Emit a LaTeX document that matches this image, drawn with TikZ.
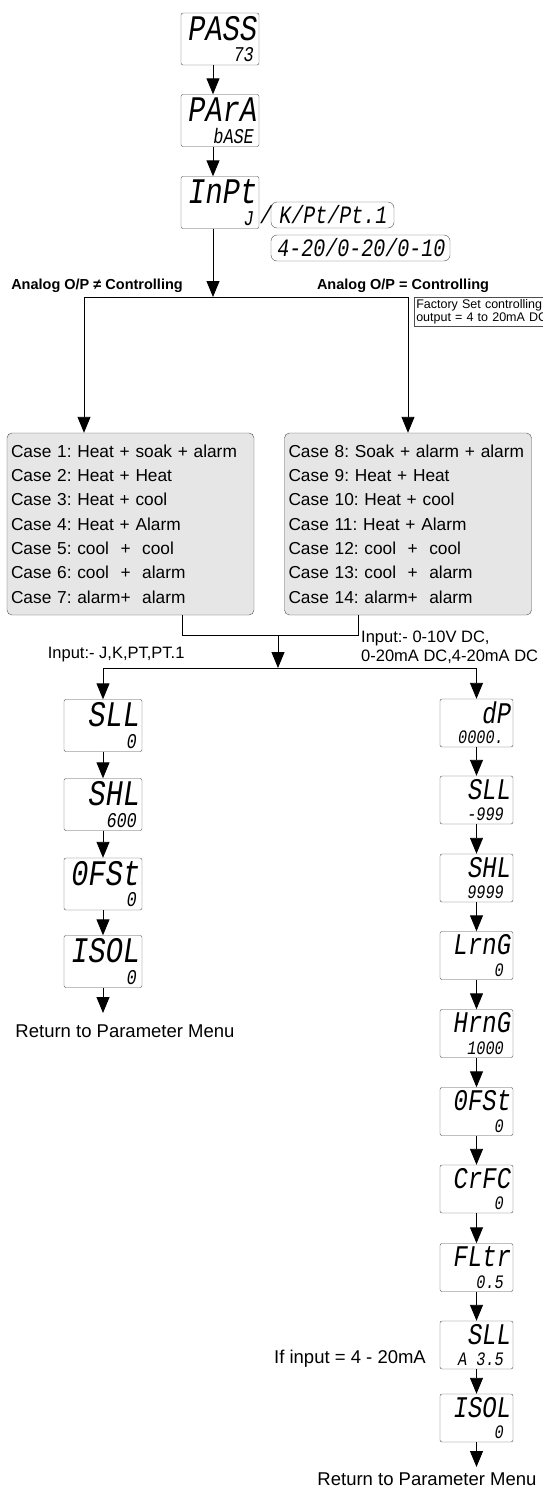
\documentclass[tikz,border=0pt]{standalone}
\usepackage{fontspec}
\setmainfont{Liberation Sans}
\newfontfamily\segfont[FakeSlant=0.15,FakeStretch=0.8]{Liberation Mono}
\usetikzlibrary{arrows.meta}
\frenchspacing

\definecolor{boxgray}{HTML}{4D4D4D}
\definecolor{casefill}{HTML}{E6E6E6}

\newcommand{\lcdbig}{\segfont\fontsize{36}{36}\selectfont}
\newcommand{\lcdbigs}{\segfont\fontsize{30}{30}\selectfont}
\newcommand{\lcdsmall}{\segfont\fontsize{21}{21}\selectfont}
\newcommand{\lcdsmalls}{\segfont\fontsize{19}{19}\selectfont}

\tikzset{
  lcd/.style={draw=boxgray, rounded corners=2pt, minimum width=78, minimum height=52, inner sep=0pt},
  lcds/.style={lcd, minimum width=73, minimum height=48},
  big/.style={anchor=north east, font=\lcdbig, inner sep=0pt, xshift=-3, yshift=-3},
  bigs/.style={big, font=\lcdbigs},
  small/.style={anchor=south east, font=\lcdsmall, inner sep=0pt, xshift=-6, yshift=3},
  smalls/.style={small, font=\lcdsmalls, xshift=-4},
  optbox/.style={draw=boxgray, rounded corners=6pt, font=\segfont\fontsize{25}{25}\selectfont, inner xsep=3pt, inner ysep=3pt},
  casebox/.style={draw=boxgray, fill=casefill, rounded corners=5pt, minimum width=247, minimum height=182,
    text width=239, inner xsep=4pt, align=left, font=\fontsize{17.3}{24.3}\selectfont},
  flow/.style={-{Triangle[length=16pt,width=13pt]}, line width=0.9pt},
}

\begin{document}
\begin{tikzpicture}[x=1pt,y=-1pt]
  \useasboundingbox (0,0) rectangle (543,1491);
  \clip (0,0) rectangle (543,1491);

  \node[lcd, label={[big]north east:PASS}, label={[small]south east:73}] (pass) at (220,39) {};
  \node[lcd, label={[big]north east:PArA}, label={[small]south east:bASE}] (para) at (220,120.5) {};
  \node[lcd, label={[big]north east:InPt}, label={[small]south east:J}] (inpt) at (220,202.5) {};
  \node[font=\segfont\fontsize{25}{25}\selectfont, inner sep=0pt] (slash) at (265,215) {/};
  \node[optbox, minimum width=123, minimum height=26] (tcopt) at (332.5,215) {K/Pt/Pt.1};
  \node[optbox, minimum width=179, minimum height=26] (maopt) at (360.5,248) {4-20/0-20/0-10};

  \draw[flow] ([xshift=-7]pass.south) -- ([xshift=-7]para.north);
  \draw[flow] ([xshift=-7]para.south) -- ([xshift=-7]inpt.north);

  \coordinate (split) at (213,297);
  \coordinate (hl) at (84,297);
  \coordinate (hr) at (408,297);
  \draw[flow] ([xshift=-7]inpt.south) -- (split);
  \draw[line width=0.9pt] (hl) -- (hr);
  \node[font=\bfseries\fontsize{14.5}{14.5}\selectfont] (notctl) at (97,286) {Analog O/P ≠ Controlling};
  \node[font=\bfseries\fontsize{14.5}{14.5}\selectfont] (isctl) at (403,286) {Analog O/P = Controlling};
  \node[draw=boxgray, line width=0.5pt, anchor=north west, align=left, text width=140, inner sep=2pt,
    font=\fontsize{12.5}{13}\selectfont] (factory) at (414,297) {Factory Set controlling\\output = 4 to 20mA DC};

  \node[casebox] (casel) at (130.5,524) {Case 1: Heat + soak + alarm\\Case 2: Heat + Heat\\Case 3: Heat + cool\\Case 4: Heat + Alarm\\Case 5: cool\ \ +\ \ cool\\Case 6: cool\ \ +\ \ alarm\\Case 7: alarm+\ \ alarm};
  \node[casebox] (caser) at (408,524) {Case 8: Soak + alarm + alarm\\Case 9: Heat + Heat\\Case 10: Heat + cool\\Case 11: Heat + Alarm\\Case 12: cool\ \ +\ \ cool\\Case 13: cool\ \ +\ \ alarm\\Case 14: alarm+\ \ alarm};
  \draw[flow] (hl) -- (hl |- casel.north);
  \draw[flow] (hr) -- (caser.north);

  \coordinate (jl) at (182,635);
  \coordinate (jr) at (358,635);
  \coordinate (merge) at (278,635);
  \coordinate (split2) at (278,668);
  \coordinate (bl) at (103,668);
  \coordinate (br) at (476.5,668);
  \draw[line width=0.9pt] (jl |- casel.south) -- (jl) -- (jr) -- (jr |- caser.south);
  \draw[flow] (merge) -- (split2);
  \draw[line width=0.9pt] (bl) -- (br);
  \node[anchor=east, font=\fontsize{16.5}{16.5}\selectfont] (tcin) at (188,655) {Input:- J,K,PT,PT.1};
  \node[anchor=north west, align=left, inner sep=0pt, font=\fontsize{16.5}{19}\selectfont] (main) at (361,631) {Input:- 0-10V DC,\\0-20mA DC,4-20mA DC};

  \node[lcd, label={[big]north east:SLL}, label={[small]south east:0}] (lsll) at (103,725.5) {};
  \node[lcd, label={[big]north east:SHL}, label={[small]south east:600}] (lshl) at (103,804.5) {};
  \node[lcd, label={[big]north east:0FSt}, label={[small]south east:0}] (lofst) at (103,884) {};
  \node[lcd, label={[big]north east:ISOL}, label={[small]south east:0}] (lisol) at (103,961.5) {};
  \coordinate (lend) at (103,1013);
  \node[font=\fontsize{18.5}{18.5}\selectfont] (lret) at (125,1031) {Return to Parameter Menu};
  \draw[flow] (bl) -- (lsll.north);
  \draw[flow] (lsll.south) -- (lshl.north);
  \draw[flow] (lshl.south) -- (lofst.north);
  \draw[flow] (lofst.south) -- (lisol.north);
  \draw[flow] (lisol.south) -- (lend);

  \node[lcds, label={[bigs]north east:dP}, label={[smalls]south east:0000.}] (dp) at (476.5,723) {};
  \node[lcds, label={[bigs]north east:SLL}, label={[smalls]south east:-999}] (rsll) at (476.5,800) {};
  \node[lcds, label={[bigs]north east:SHL}, label={[smalls]south east:9999}] (rshl) at (476.5,878) {};
  \node[lcds, label={[bigs]north east:LrnG}, label={[smalls]south east:0}] (lrng) at (476.5,955.5) {};
  \node[lcds, label={[bigs]north east:HrnG}, label={[smalls]south east:1000}] (hrng) at (476.5,1033.5) {};
  \node[lcds, label={[bigs]north east:0FSt}, label={[smalls]south east:0}] (rofst) at (476.5,1111.5) {};
  \node[lcds, label={[bigs]north east:CrFC}, label={[smalls]south east:0}] (crfc) at (476.5,1189) {};
  \node[lcds, label={[bigs]north east:FLtr}, label={[smalls]south east:0.5}] (fltr) at (476.5,1267.5) {};
  \node[lcds, label={[bigs]north east:SLL}, label={[smalls]south east:A\ 3.5}] (masll) at (476.5,1345) {};
  \node[lcds, label={[bigs]north east:ISOL}, label={[smalls]south east:0}] (risol) at (476.5,1418) {};
  \node[font=\fontsize{18.5}{18.5}\selectfont] (ifma) at (350,1359) {If input = 4 - 20mA};
  \coordinate (rend) at (476.5,1467);
  \node[font=\fontsize{18.5}{18.5}\selectfont] (rret) at (427,1479) {Return to Parameter Menu};
  \draw[flow] (br) -- (dp.north);
  \draw[flow] (dp.south) -- (rsll.north);
  \draw[flow] (rsll.south) -- (rshl.north);
  \draw[flow] (rshl.south) -- (lrng.north);
  \draw[flow] (lrng.south) -- (hrng.north);
  \draw[flow] (hrng.south) -- (rofst.north);
  \draw[flow] (rofst.south) -- (crfc.north);
  \draw[flow] (crfc.south) -- (fltr.north);
  \draw[flow] (fltr.south) -- (masll.north);
  \draw[flow] (masll.south) -- (risol.north);
  \draw[flow] (risol.south) -- (rend);
\end{tikzpicture}
\end{document}
